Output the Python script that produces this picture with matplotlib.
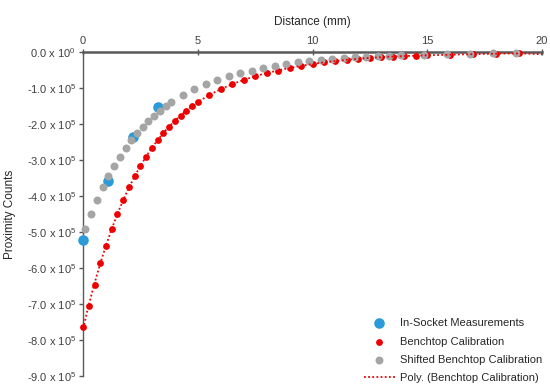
import numpy as np
import matplotlib
matplotlib.use("Agg")
import matplotlib.pyplot as plt
from matplotlib.ticker import FuncFormatter

plt.rcParams['font.family'] = ['Liberation Sans', 'DejaVu Sans']
plt.rcParams['mathtext.fontset'] = 'custom'
plt.rcParams['mathtext.rm'] = 'Liberation Sans'
plt.rcParams['mathtext.it'] = 'Liberation Sans'
plt.rcParams['mathtext.default'] = 'regular'

# in-socket measurements
sock_x = [0.0, 1.07, 2.17, 3.28]
sock_y = [-5.21e5, -3.57e5, -2.37e5, -1.53e5]

# benchtop calibration
bench_x = [0, 0.25, 0.5, 0.75, 1, 1.25, 1.5, 1.75, 2, 2.25, 2.5, 2.75, 3, 3.25, 3.5, 3.75,
           4, 4.25, 4.5, 4.75, 5, 5.5, 6, 6.5, 7, 7.5, 8, 8.5, 9, 9.5, 10, 10.5, 11, 11.5,
           12, 12.5, 13, 13.5, 14, 14.5, 15, 16, 17, 18, 19]
bench_y = [-7.63e5, -7.07e5, -6.48e5, -5.87e5, -5.38e5, -4.91e5, -4.49e5, -4.12e5,
           -3.75e5, -3.44e5, -3.16e5, -2.91e5, -2.67e5, -2.44e5, -2.25e5, -2.07e5,
           -1.91e5, -1.77e5, -1.64e5, -1.51e5, -1.39e5, -1.20e5, -1.04e5, -0.90e5,
           -0.78e5, -0.67e5, -0.58e5, -0.52e5, -0.44e5, -0.38e5, -0.32e5, -0.29e5,
           -0.25e5, -0.22e5, -0.19e5, -0.17e5, -0.15e5, -0.13e5, -0.11e5, -0.10e5,
           -0.09e5, -0.07e5, -0.06e5, -0.05e5, -0.04e5]

# shifted benchtop calibration
shift_x = [0.1, 0.35, 0.6, 0.85, 1.1, 1.35, 1.6, 1.85, 2.1, 2.35, 2.6, 2.85, 3.1, 3.35,
           3.6, 3.85, 4.35, 4.85, 5.35, 5.85, 6.35, 6.85, 7.35, 7.85, 8.35, 8.85, 9.35,
           9.85, 10.35, 10.85, 11.35, 11.85, 12.35, 12.85, 13.35, 13.85, 14.85, 15.85,
           16.85, 17.85, 18.85]
shift_y = [-4.91e5, -4.49e5, -4.12e5, -3.75e5, -3.44e5, -3.16e5, -2.91e5, -2.67e5,
           -2.44e5, -2.25e5, -2.07e5, -1.91e5, -1.77e5, -1.64e5, -1.51e5, -1.39e5,
           -1.20e5, -1.04e5, -0.90e5, -0.78e5, -0.67e5, -0.58e5, -0.52e5, -0.44e5,
           -0.38e5, -0.32e5, -0.29e5, -0.25e5, -0.22e5, -0.19e5, -0.17e5, -0.15e5,
           -0.13e5, -0.11e5, -0.10e5, -0.09e5, -0.07e5, -0.06e5, -0.05e5, -0.04e5,
           -0.03e5]

x_ticks = [0, 5, 10, 15, 20]

fig = plt.figure(figsize=(5.5, 3.88), dpi=100)
ax = fig.add_axes([0.151, 0.031, 0.8345, 0.835])

ax.scatter(sock_x, sock_y, s=58, color='#2a9bd8', zorder=3, label='In-Socket Measurements',
           clip_on=False, linewidths=0)
ax.scatter(bench_x, bench_y, s=24, color='#ee0000', zorder=4, label='Benchtop Calibration',
           clip_on=False, linewidths=0)
ax.scatter(shift_x, shift_y, s=33, color='#a5a5a5', zorder=5, label='Shifted Benchtop Calibration',
           clip_on=False, linewidths=0)

# polynomial trendline of the benchtop data
coef = np.polyfit(bench_x, bench_y, 6)
xx = np.linspace(0, 20, 300)
ax.plot(xx, np.polyval(coef, xx), color='#ee0000', ls=(0, (1, 1.3)), lw=1.3, zorder=6,
        label='Poly. (Benchtop Calibration)', clip_on=False)

ax.set_xlim(0, 20)
ax.set_ylim(-9e5, 0)
ax.xaxis.tick_top()
ax.xaxis.set_label_position('top')
ax.set_xticks(x_ticks)
ax.set_yticks(np.arange(-9e5, 1, 1e5))

def fmt(v, pos):
    if v == 0:
        return r'0.0 x 10$^{0}$'
    return r'%.1f x 10$^{5}$' % (v / 1e5)
ax.yaxis.set_major_formatter(FuncFormatter(fmt))

for s in ['right', 'bottom']:
    ax.spines[s].set_visible(False)
ax.spines['top'].set_color('#595959')
ax.spines['top'].set_linewidth(1.8)
ax.spines['left'].set_color('#595959')
ax.spines['left'].set_linewidth(1.0)
ax.tick_params(axis='x', direction='inout', length=5, width=1, color='#595959',
               labelsize=8, pad=2, labelcolor='#404040')
ax.tick_params(axis='y', direction='out', length=3, width=1, color='#595959',
               labelsize=8, pad=2, labelcolor='#404040')

ax.set_xlabel('Distance (mm)', fontsize=8.5, labelpad=8, color='#262626')
ax.set_ylabel('Proximity Counts', fontsize=8.5, color='#262626')
ax.yaxis.set_label_coords(-0.145, 0.5)

ax.legend(loc='lower right', frameon=False, fontsize=8, handlelength=2.8,
          handletextpad=0.5, labelspacing=0.75, borderaxespad=0.1,
          bbox_to_anchor=(1.013, -0.04), labelcolor='#262626')

fig.savefig('out.png', dpi=100)
